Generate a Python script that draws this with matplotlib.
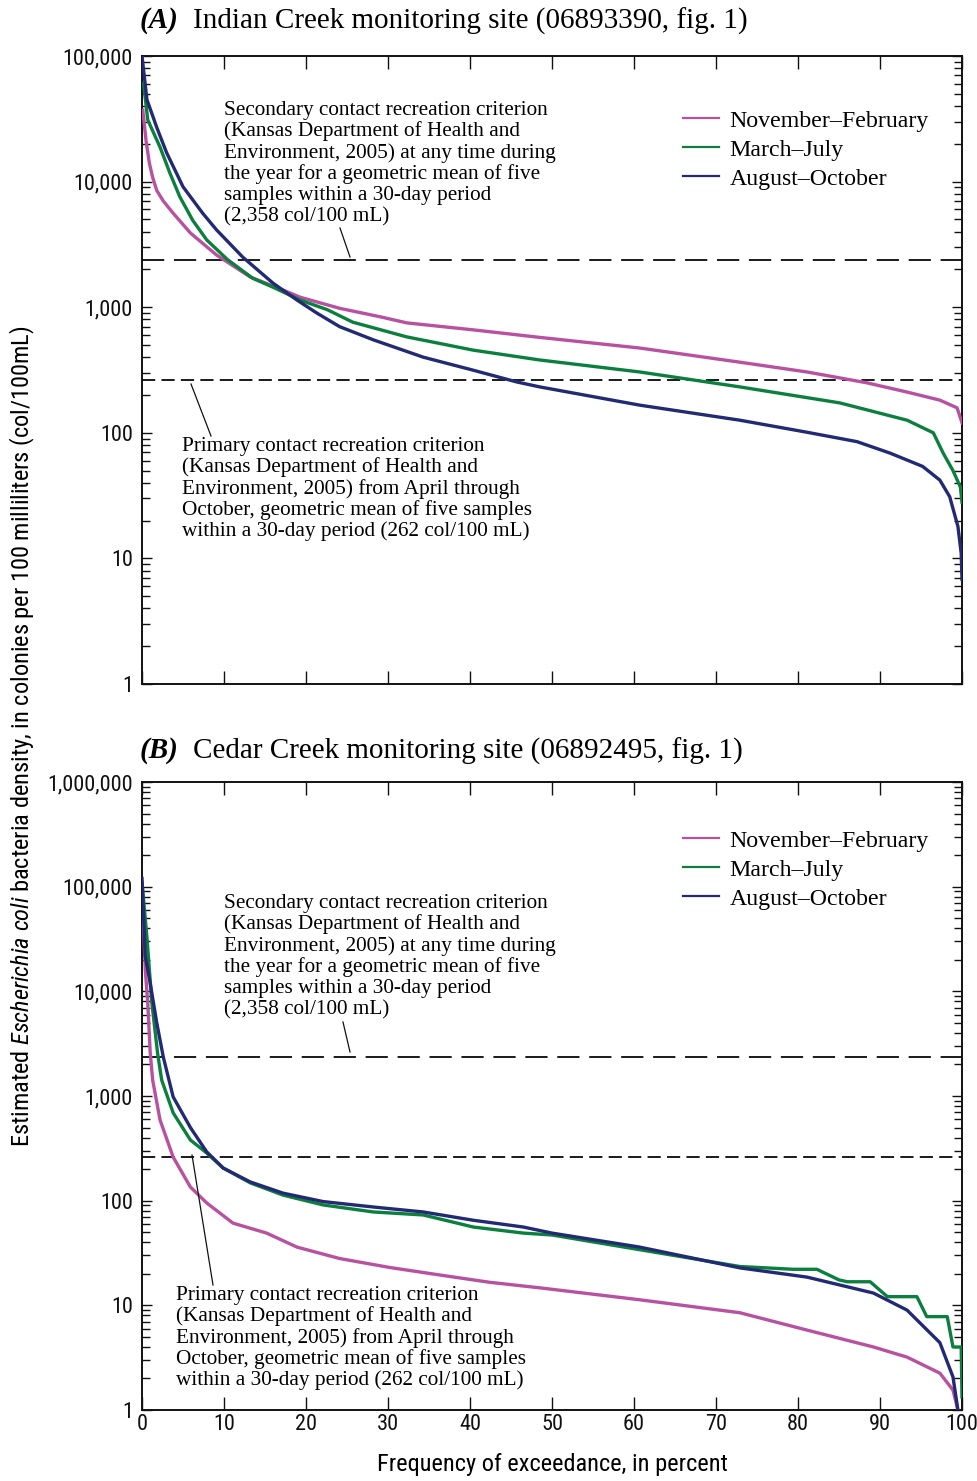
import matplotlib
matplotlib.use("Agg")
import matplotlib.pyplot as plt
from matplotlib import font_manager
from matplotlib.lines import Line2D
from matplotlib.ticker import FixedLocator, LogLocator, FuncFormatter, NullFormatter

# ---------------- data ----------------
# Panel A: Indian Creek
A_nf_x = [0.1, 0.5, 0.9, 1.3, 1.8, 2.6, 3.8, 5.9, 9.1, 13.2, 17.2, 19.3, 24.1, 29, 32.3, 40.4, 48.5,
          60.7, 72.9, 81.1, 88.4, 93.3, 97.3, 99.4, 100]
A_nf_y = [37000, 21000, 14000, 10800, 8500, 7000, 5600, 3900, 2600, 1740, 1370, 1200, 980, 840, 750, 660, 575,
          473, 365, 305, 250, 211, 182, 158, 120]

A_mj_x = [0.2, 0.7, 2.2, 3.4, 4.6, 6.2, 7.9, 10.4, 13.5, 16, 19.3, 22.6, 25.7, 32.3, 40.4,
          48.5, 60.7, 72.9, 85.1, 93.3, 96.5, 97.7, 98.9, 99.8, 100]
A_mj_y = [60000, 31000, 18800, 11700, 7600, 4900, 3430, 2400, 1700, 1440, 1140, 955, 760, 580, 455,
          380, 305, 232, 173, 126, 100, 69, 50, 37, 28]

A_ao_x = [0, 0.6, 1.8, 3.0, 5.0, 7.4, 9.1, 12.3, 16, 18.9, 21.3, 24.1, 28.2, 34.3, 40.4, 45.7,
          48.5, 60.7, 72.9, 81.1, 87.2, 91.2, 95.2, 97.3, 98.5, 99.5, 99.9, 100]
A_ao_y = [100000, 45000, 27000, 17000, 9100, 5600, 4120, 2500, 1550, 1140, 900, 700, 550, 400, 315, 254,
          232, 166, 126, 101, 85, 69, 54, 42, 31, 18, 11, 6.8]

# Panel B: Cedar Creek
B_nf_x = [0, 0.4, 0.7, 1.0, 1.3, 2.2, 3.8, 5.9, 7.9, 11.1, 15.2, 18.9, 24.1, 30.2, 36.3, 42.4,
          48.5, 60.7, 72.9, 81.1, 89.2, 93.3, 97.3, 98.9, 99.5]
B_nf_y = [105000, 16000, 7800, 2600, 1420, 590, 261, 135, 95, 61, 49, 36, 28, 23, 19.5, 16.6,
          14.7, 11.3, 8.5, 5.8, 4.0, 3.2, 2.25, 1.55, 1.0]

B_mj_x = [0, 0.6, 1.2, 1.9, 2.4, 3.8, 5.9, 7.9, 9.9, 13.2, 17.2, 22.1, 28.2, 34.3, 40.4, 46.5,
          50, 60.7, 72.9, 79.4, 82.3, 85.0, 86.0, 88.8, 90.9, 94.5, 95.7, 98.2, 98.9, 99.9, 100]
B_mj_y = [110000, 33000, 7800, 2570, 1420, 690, 380, 285, 205, 148, 113, 91, 78, 73, 56, 49,
          47, 34, 23.5, 22.1, 22.1, 17.5, 16.8, 16.8, 12.1, 12.1, 7.8, 7.8, 4.0, 4.0, 1.33]

B_ao_x = [0, 0.4, 1.0, 1.8, 2.6, 3.8, 5.9, 7.9, 9.9, 13.2, 17.2, 22.1, 28.2, 34.3, 40.4,
          46.5, 50, 60.7, 72.9, 81.1, 89.2, 93.3, 97.3, 98.9, 99.5]
B_ao_y = [120000, 21500, 12000, 5000, 2350, 980, 500, 292, 205, 151, 118, 98, 87, 78, 65,
          56, 49, 36, 22.8, 18.6, 13.1, 9, 4.4, 2.07, 1.0]

secondary_criterion = 2358
primary_criterion = 262

series_labels = ["November\u2013February", "March\u2013July", "August\u2013October"]
series_colors = ["#B8519F", "#0B7F3E", "#212A72"]

panel_titles = [("(A)", "Indian Creek monitoring site (06893390, fig. 1)"),
                ("(B)", "Cedar Creek monitoring site (06892495, fig. 1)")]

secondary_text = ["Secondary contact recreation criterion",
                  "(Kansas Department of Health and",
                  "Environment, 2005) at any time during",
                  "the year for a geometric mean of five",
                  "samples within a 30-day period",
                  "(2,358 col/100 mL)"]
primary_text = ["Primary contact recreation criterion",
                "(Kansas Department of Health and",
                "Environment, 2005) from April through",
                "October, geometric mean of five samples",
                "within a 30-day period (262 col/100 mL)"]

xlabel = "Frequency of exceedance, in percent"
ylabel = (r"Estimated $\mathit{Escherichia\ coli}$ bacteria density, "
          r"in colonies per 100 milliliters (col/100mL)")

# ---------------- fonts ----------------
names = {f.name for f in font_manager.fontManager.ttflist}
sans = "DejaVu Sans"
for cand in ["Liberation Sans Narrow", "Roboto Condensed", "Open Sans Condensed", "Liberation Sans"]:
    if cand in names:
        sans = cand
        break
serif = "Liberation Serif" if "Liberation Serif" in names else "DejaVu Serif"

plt.rcParams["font.family"] = [sans, "DejaVu Sans"]
plt.rcParams["mathtext.fontset"] = "custom"
plt.rcParams["mathtext.rm"] = sans
plt.rcParams["mathtext.it"] = sans + ":italic"
plt.rcParams["lines.scale_dashes"] = False

W, H = 977, 1481
fig = plt.figure(figsize=(W / 100, H / 100), dpi=100)


def fx(px):
    return px / W


def fy(py):
    return 1 - py / H


axA = fig.add_axes([fx(142), fy(684), fx(962) - fx(142), fy(56) - fy(684)])
axB = fig.add_axes([fx(142), fy(1410), fx(962) - fx(142), fy(782) - fy(1410)])

panels = [
    (axA, [(A_nf_x, A_nf_y), (A_mj_x, A_mj_y), (A_ao_x, A_ao_y)], 1e5, 110),
    (axB, [(B_nf_x, B_nf_y), (B_mj_x, B_mj_y), (B_ao_x, B_ao_y)], 1e6, 830),
]

for ax, curves, ymax, leg_top in panels:
    ax.set_yscale("log")
    ax.set_xlim(0, 100)
    ax.set_ylim(1, ymax)
    for (xs, ys), c in zip(curves, series_colors):
        ax.plot(xs, ys, color=c, lw=2.4, solid_joinstyle="round", zorder=3)
    ax.axhline(secondary_criterion, color="#1a1a1a", lw=1.4, dashes=(16, 7), zorder=2)
    ax.axhline(primary_criterion, color="#1a1a1a", lw=1.4, dashes=(9.5, 4.5), zorder=2)
    ax.xaxis.set_major_locator(FixedLocator(list(range(0, 101, 10))))
    ax.yaxis.set_major_locator(LogLocator(base=10, numticks=20))
    ax.yaxis.set_minor_locator(LogLocator(base=10, subs=range(2, 10), numticks=20))
    ax.yaxis.set_major_formatter(FuncFormatter(lambda v, p: f"{v:,.0f}"))
    ax.yaxis.set_minor_formatter(NullFormatter())
    ax.tick_params(axis="both", which="both", direction="in", top=True, right=True,
                   labelsize=16, colors="#111111")
    ax.tick_params(axis="x", which="major", length=9.5, width=1.0, pad=3)
    ax.tick_params(axis="y", which="major", length=7, width=1.0, pad=6.5)
    ax.tick_params(axis="y", which="minor", length=5.5, width=1.0)
    for s in ax.spines.values():
        s.set_linewidth(1.4)
        s.set_color("#111111")
    leg_handles = [Line2D([], [], color=c, lw=1.6) for c in series_colors]
    ax.legend(leg_handles, series_labels, loc="upper left",
              bbox_to_anchor=(fx(683), fy(leg_top)), bbox_transform=fig.transFigure,
              frameon=False, borderpad=0, borderaxespad=0, handlelength=1.5,
              handletextpad=0.45, labelspacing=0.3,
              prop={"family": serif, "size": 17.2})

axA.tick_params(axis="x", labelbottom=False)

# titles
for (tag, rest), ypx in zip(panel_titles, [21, 751]):
    fig.text(fx(140), fy(ypx), tag, family=serif, style="italic", weight="bold",
             fontsize=21, ha="left", va="center")
    fig.text(fx(193), fy(ypx), rest, family=serif, fontsize=21, ha="left", va="center")


# annotations
def block(lines, x0, y_first_baseline, step=21.3):
    for i, t in enumerate(lines):
        fig.text(fx(x0), fy(y_first_baseline + i * step), t, family=serif, fontsize=15.3,
                 ha="left", va="baseline")


block(secondary_text, 224, 115)
block(primary_text, 182, 451)
block(secondary_text, 224, 908)
block(primary_text, 176, 1300)

for (x1, y1, x2, y2) in [(340, 228, 350, 257), (191, 384, 211, 436),
                         (343, 1022, 350, 1052), (192, 1155, 213, 1285)]:
    fig.add_artist(Line2D([fx(x1), fx(x2)], [fy(y1), fy(y2)], transform=fig.transFigure,
                          color="#111111", lw=0.9))

fig.text(fx(552), fy(1464), xlabel, fontsize=17.6, ha="center", va="center")
fig.text(fx(22), fy(736), ylabel, fontsize=17.6, ha="center", va="center", rotation=90)

fig.savefig("out.png", dpi=100)
